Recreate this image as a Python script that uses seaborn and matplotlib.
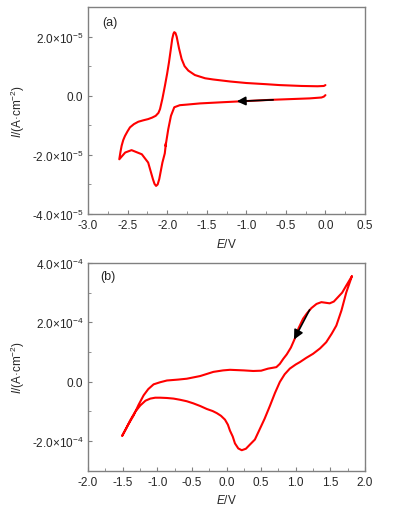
import numpy as np
import pandas as pd
import matplotlib
matplotlib.use("Agg")
import matplotlib.pyplot as plt
import seaborn as sns
from matplotlib.ticker import MultipleLocator, FuncFormatter

# Panel (a): CV scan, potential in V, current density in 1e-5 A/cm2
E_a = [0.0, -0.02, -0.05, -0.2, -0.4, -0.7, -1.0, -1.3, -1.586, -1.75, -1.84,
       -1.91, -1.952, -1.986, -2.02, -2.015, -2.03, -2.06, -2.10, -2.12, -2.14,
       -2.16, -2.18, -2.24, -2.32, -2.45, -2.53, -2.605,
       -2.59, -2.575, -2.555, -2.533, -2.50, -2.47, -2.42, -2.365, -2.30, -2.24,
       -2.19, -2.145, -2.11, -2.09, -2.06, -2.028, -2.00, -1.977, -1.955, -1.936,
       -1.92, -1.91, -1.895, -1.88, -1.85, -1.817, -1.78, -1.733, -1.65, -1.52,
       -1.42, -1.2, -1.0, -0.75, -0.58, -0.3, -0.1, -0.02, 0.0]
I_a = [0.02, -0.03, -0.06, -0.09, -0.11, -0.14, -0.18, -0.22, -0.26, -0.30, -0.32,
       -0.39, -0.68, -1.13, -1.70, -1.60, -1.95, -2.26, -2.82, -3.00, -3.05,
       -2.98, -2.82, -2.26, -1.98, -1.84, -1.92, -2.15,
       -1.90, -1.69, -1.50, -1.36, -1.20, -1.07, -0.96, -0.88, -0.83, -0.79,
       -0.74, -0.68, -0.58, -0.45, -0.10, 0.34, 0.75, 1.13, 1.55, 1.92,
       2.10, 2.15, 2.12, 2.00, 1.60, 1.24, 1.00, 0.85, 0.70, 0.59,
       0.55, 0.48, 0.43, 0.39, 0.36, 0.33, 0.32, 0.33, 0.36]

# Panel (b): potential in V, current density in 1e-4 A/cm2
E_b = [1.81, 1.73, 1.67, 1.61, 1.55, 1.49, 1.43, 1.37, 1.30, 1.226, 1.16, 1.105,
       1.04, 0.986, 0.93, 0.87, 0.82, 0.77, 0.72, 0.60, 0.50, 0.386, 0.25, 0.05,
       -0.05, -0.19, -0.38, -0.573, -0.70, -0.86, -0.96, -1.053, -1.13, -1.197,
       -1.27, -1.34, -1.42, -1.508,
       -1.45, -1.39, -1.32, -1.245, -1.17, -1.10, -1.03, -0.957, -0.86, -0.765,
       -0.67, -0.573, -0.48, -0.38, -0.285, -0.2, -0.14, -0.08, -0.022, 0.02,
       0.05, 0.09, 0.122, 0.17, 0.22, 0.28, 0.338, 0.41, 0.48, 0.55, 0.626,
       0.70, 0.77, 0.84, 0.914, 1.0, 1.06, 1.15, 1.25, 1.35, 1.44, 1.52, 1.586,
       1.66, 1.73, 1.81]
I_b = [3.55, 3.24, 3.00, 2.85, 2.70, 2.64, 2.66, 2.68, 2.62, 2.48, 2.30, 2.12,
       1.80, 1.45, 1.15, 0.92, 0.77, 0.60, 0.49, 0.44, 0.37, 0.36, 0.38, 0.40,
       0.38, 0.33, 0.19, 0.10, 0.07, 0.04, -0.02, -0.09, -0.25, -0.46,
       -0.78, -1.13, -1.45, -1.83,
       -1.58, -1.30, -1.02, -0.80, -0.64, -0.57, -0.54, -0.54, -0.55, -0.57,
       -0.61, -0.66, -0.73, -0.82, -0.92, -0.99, -1.06, -1.15, -1.28, -1.45,
       -1.65, -1.85, -2.08, -2.25, -2.31, -2.26, -2.12, -1.95, -1.60, -1.25, -0.82,
       -0.38, -0.01, 0.25, 0.44, 0.58, 0.66, 0.80, 0.94, 1.12, 1.33, 1.62, 1.89,
       2.40, 3.01, 3.55]

# scan direction arrows (start -> end)
arrow_a = [(-0.66, -0.14e-5), (-1.12, -0.19e-5)]
arrow_b = [(1.20, 2.42e-4), (0.975, 1.42e-4)]

sns.set_style("ticks")
plt.rcParams['font.family'] = ['Liberation Sans', 'DejaVu Sans']
plt.rcParams['axes.unicode_minus'] = False
plt.rcParams['mathtext.fontset'] = 'custom'
plt.rcParams['mathtext.rm'] = 'Liberation Sans'
plt.rcParams['mathtext.it'] = 'Liberation Sans:italic'


def sci_fmt(v, pos):
    if abs(v) < 1e-12:
        return "0.0"
    exp = int(np.floor(np.log10(abs(v))))
    mant = v / 10 ** exp
    return f"{mant:.1f}×10$^{{{exp}}}$"


def style_axes(ax):
    for sp in ax.spines.values():
        sp.set_color('#808080')
        sp.set_linewidth(1.0)
    ax.tick_params(which='both', direction='in', color='#808080',
                   labelsize=8.5, top=False, right=False)
    ax.tick_params(which='major', length=3)
    ax.tick_params(which='minor', length=2)
    ax.yaxis.set_major_formatter(FuncFormatter(sci_fmt))
    ax.xaxis.set_major_formatter(FuncFormatter(lambda v, p: f"{v:.1f}"))


fig = plt.figure(figsize=(3.94, 5.10), dpi=100)
ax1 = fig.add_axes([0.2234, 0.5784, 0.7030, 0.4059])
ax2 = fig.add_axes([0.2234, 0.0751, 0.7030, 0.4073])

df_a = pd.DataFrame({'E': E_a, 'I': np.array(I_a) * 1e-5})
df_b = pd.DataFrame({'E': E_b, 'I': np.array(I_b) * 1e-4})

sns.lineplot(data=df_a, x='E', y='I', sort=False, estimator=None,
             color='#ff0000', lw=1.5, ax=ax1)
sns.lineplot(data=df_b, x='E', y='I', sort=False, estimator=None,
             color='#ff0000', lw=1.5, ax=ax2)

ax1.annotate('', xy=arrow_a[1], xytext=arrow_a[0],
             arrowprops=dict(arrowstyle='-|>', color='k', lw=1.2,
                             mutation_scale=13, shrinkA=0, shrinkB=0))
ax2.annotate('', xy=arrow_b[1], xytext=arrow_b[0],
             arrowprops=dict(arrowstyle='-|>', color='k', lw=1.2,
                             mutation_scale=14, shrinkA=0, shrinkB=0))

ax1.set_xlim(-3.0, 0.5)
ax1.set_ylim(-4.0e-5, 3.0e-5)
ax1.xaxis.set_major_locator(MultipleLocator(0.5))
ax1.xaxis.set_minor_locator(MultipleLocator(0.25))
ax1.yaxis.set_major_locator(MultipleLocator(2e-5))
ax1.yaxis.set_minor_locator(MultipleLocator(1e-5))

ax2.set_xlim(-2.0, 2.0)
ax2.set_ylim(-3.0e-4, 4.0e-4)
ax2.xaxis.set_major_locator(MultipleLocator(0.5))
ax2.xaxis.set_minor_locator(MultipleLocator(0.25))
ax2.yaxis.set_major_locator(MultipleLocator(2e-4))
ax2.yaxis.set_minor_locator(MultipleLocator(1e-4))

for ax, tag, tx, ty, xl_y in [(ax1, '(a)', 0.08, 0.928, -0.113),
                              (ax2, '(b)', 0.072, 0.9375, -0.105)]:
    style_axes(ax)
    ax.set_xlabel('$\\it{E}$/V', fontsize=8.5)
    ax.set_ylabel('$\\it{I}$/(A·cm$^{-2}$)', fontsize=8.5)
    ax.xaxis.set_label_coords(0.5, xl_y)
    ax.yaxis.set_label_coords(-0.222, 0.5)
    ax.text(tx, ty, tag, transform=ax.transAxes, fontsize=9,
            ha='center', va='center')

fig.savefig('out.png', dpi=100)
